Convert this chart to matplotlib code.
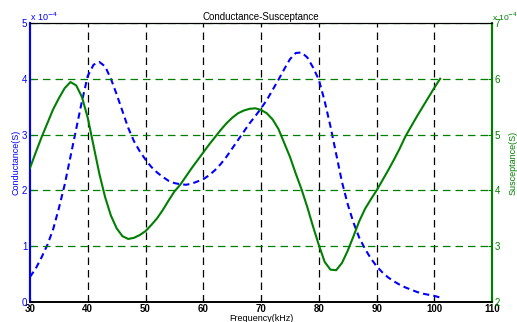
import matplotlib
matplotlib.use("Agg")
import matplotlib.pyplot as plt

plt.rcParams['font.family'] = ['Liberation Sans', 'DejaVu Sans']

freq = list(range(30, 102))
conductance = [0.45, 0.6, 0.8, 1.02, 1.3, 1.68, 2.1, 2.6, 3.1, 3.6,
               4.05, 4.25, 4.3, 4.22, 4.0, 3.72, 3.42, 3.12, 2.88, 2.7,
               2.55, 2.42, 2.32, 2.24, 2.17, 2.13, 2.11, 2.1, 2.12, 2.16,
               2.2, 2.27, 2.36, 2.47, 2.6, 2.75, 2.9, 3.05, 3.2, 3.33,
               3.47, 3.62, 3.8, 3.98, 4.17, 4.35, 4.46, 4.47, 4.38, 4.2,
               3.98, 3.6, 3.15, 2.65, 2.15, 1.75, 1.42, 1.15, 0.95, 0.78,
               0.64, 0.53, 0.44, 0.37, 0.31, 0.26, 0.22, 0.18, 0.15, 0.13,
               0.11, 0.08]
susceptance = [4.4, 4.68, 4.95, 5.2, 5.45, 5.65, 5.83, 5.94, 5.88, 5.67,
               5.3, 4.8, 4.3, 3.88, 3.55, 3.32, 3.18, 3.13, 3.15, 3.2,
               3.27, 3.38, 3.5, 3.65, 3.82, 3.98, 4.1, 4.25, 4.4, 4.54,
               4.68, 4.82, 4.95, 5.08, 5.2, 5.3, 5.38, 5.43, 5.46, 5.47,
               5.44, 5.38, 5.27, 5.1, 4.85, 4.6, 4.3, 4.02, 3.7, 3.35,
               3.02, 2.72, 2.58, 2.57, 2.7, 2.92, 3.18, 3.45, 3.67, 3.84,
               4.0, 4.18, 4.36, 4.55, 4.75, 4.97, 5.15, 5.33, 5.5, 5.67,
               5.84, 6.0]
xticks = [30, 40, 50, 60, 70, 80, 90, 100, 110]
left_ticks = [0, 1, 2, 3, 4, 5]
right_ticks = [2, 3, 4, 5, 6, 7]

BLUE = '#0000ff'
GREEN = '#008000'

fig = plt.figure(figsize=(5.17, 3.22), dpi=100)
ax = fig.add_axes([0.058, 0.062, 0.894, 0.867])
ax2 = ax.twinx()

ax.set_xlim(30, 110)
ax.set_ylim(0, 5)
ax2.set_ylim(2, 7)
ax.set_xticks(xticks)
ax.set_yticks(left_ticks)
ax2.set_yticks(right_ticks)

# grids
for xv in xticks[1:-1]:
    ax.axvline(xv, color='black', linestyle=(0, (6, 4)), linewidth=0.9, zorder=1)
for yv in right_ticks:
    ax2.axhline(yv, color=GREEN, linestyle=(0, (6, 4)), linewidth=0.9, zorder=1)

ax.plot(freq, conductance, color=BLUE, linestyle=(0, (3, 2)), linewidth=1.5, zorder=3)
ax2.plot(freq, susceptance, color=GREEN, linestyle='-', linewidth=1.5, zorder=3)

fs = 7
ax.tick_params(axis='x', direction='in', labelsize=fs, colors='black', length=3, pad=1.5)
ax.tick_params(axis='y', direction='in', labelsize=fs, colors=BLUE, length=3, pad=2)
ax2.tick_params(axis='y', direction='in', labelsize=fs, colors=GREEN, length=3, pad=2)
for lbl in ax.get_xticklabels():
    lbl.set_fontweight('bold')

for a in (ax, ax2):
    a.spines['top'].set_color('black')
    a.spines['bottom'].set_color('black')
    a.spines['left'].set_color(BLUE)
    a.spines['right'].set_color(GREEN)
    a.spines['left'].set_linewidth(1.5)
    a.spines['right'].set_linewidth(1.5)
    a.spines['bottom'].set_linewidth(1.2)

ax.set_xlabel('Frequency(kHz)', fontsize=6.5, labelpad=0)
ax.set_ylabel('Conductance(S)', fontsize=6.5, color=BLUE, labelpad=1)
ax2.set_ylabel('Susceptance(S)', fontsize=6.5, color=GREEN,
               rotation=90, va='center', ha='center')
ax2.yaxis.set_label_coords(1.046, 0.5)
ax.set_title('Conductance-Susceptance', fontsize=fs, pad=2)

ax.text(0.0, 1.0, r'x 10$^{-4}$', transform=ax.transAxes, color=BLUE,
        fontsize=6.5, ha='left', va='bottom')
ax2.text(0.999, 1.0, r'x 10$^{-4}$', transform=ax2.transAxes, color=GREEN,
         fontsize=6, ha='left', va='bottom')

fig.savefig('out.png', dpi=100)
